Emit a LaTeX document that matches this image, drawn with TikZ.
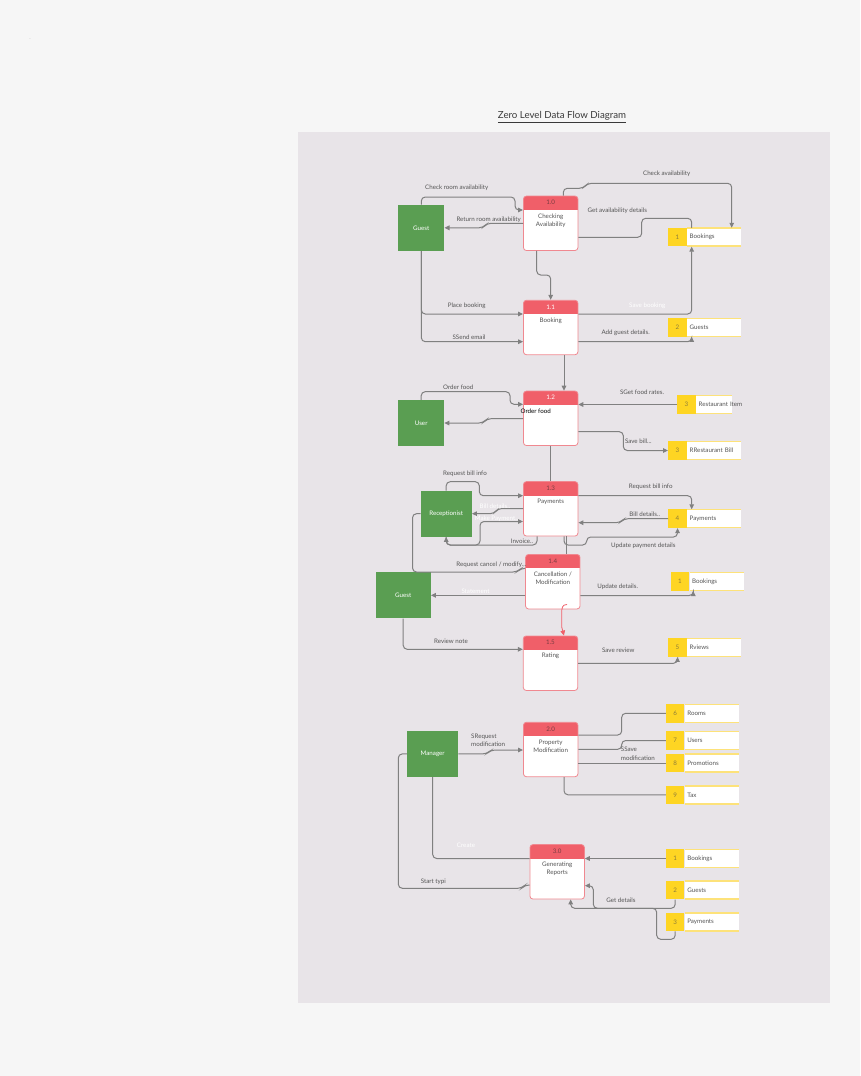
\documentclass[tikz,border=0pt]{standalone}
\usepackage{fontspec}
\setmainfont{Lato}
\usetikzlibrary{arrows.meta,positioning}
\definecolor{pagebg}{HTML}{F6F6F6}
\definecolor{panelbg}{HTML}{E8E4E8}
\definecolor{entgreen}{HTML}{5A9E52}
\definecolor{hdred}{HTML}{F05F69}
\definecolor{procline}{HTML}{F08890}
\definecolor{hdtxt}{HTML}{7A3C41}
\definecolor{stylw}{HTML}{FED523}
\definecolor{stlight}{HTML}{FDE27A}
\definecolor{snumtxt}{HTML}{8C7B3A}
\definecolor{flowgrey}{HTML}{808080}
\definecolor{txtgrey}{HTML}{555555}
\definecolor{ttlgrey}{HTML}{3A3A3A}
\newcommand{\dfdfont}{\fontsize{6.2}{8.4}\selectfont}
\tikzstyle{proc}=[draw=procline,line width=0.8pt,fill=white,rounded corners=3pt,minimum width=54.5pt,minimum height=54.5pt,inner sep=0pt,
  path picture={\fill[hdred,sharp corners] (path picture bounding box.north west) rectangle ([yshift=-14pt]path picture bounding box.north east);}]
\tikzstyle{hnum}=[anchor=center,yshift=-7pt,font=\dfdfont,text=hdtxt,inner sep=0pt]
\tikzstyle{ptxt}=[anchor=north,yshift=-17.6pt,align=center,font=\dfdfont,text=txtgrey,inner sep=0pt]
\tikzstyle{extent}=[fill=entgreen,text=white,minimum width=46pt,minimum height=46pt,inner sep=0pt,font=\dfdfont]
\tikzstyle{snum}=[fill=stylw,text=snumtxt,minimum width=18.5pt,minimum height=18.5pt,inner sep=0pt,font=\dfdfont]
\tikzstyle{slab}=[fill=white,minimum height=18.5pt,text width=49.3pt,inner xsep=2.5pt,inner ysep=0pt,align=left,font=\dfdfont,text=txtgrey,
  path picture={\draw[stlight,line width=2pt] (path picture bounding box.north west) -- (path picture bounding box.north east) (path picture bounding box.south west) -- (path picture bounding box.south east);}]
\tikzstyle{dflow}=[draw=flowgrey,line width=1pt,rounded corners=4pt]
\tikzstyle{rflow}=[draw=hdred,line width=0.8pt,->]
\tikzstyle{flab}=[font=\dfdfont,text=txtgrey,inner sep=0pt]
\tikzstyle{wlab}=[font=\dfdfont,text=white,inner sep=0pt]
\tikzstyle{ttl}=[font=\fontsize{9.7}{12}\selectfont,text=ttlgrey]

\begin{document}
\begin{tikzpicture}[x=1pt,y=-1pt,>={Triangle[length=5pt,width=4.6pt]}]
\useasboundingbox (0,0) rectangle (860,1076);
\fill[pagebg] (0,0) rectangle (860,1076);
\fill[panelbg] (298,132) rectangle (830,1003);
\node[font=\fontsize{4}{4}\selectfont,text=gray] (dot) at (30,39) {.};
\node[ttl] (title) at (562,117) {\underline{Zero Level Data Flow Diagram}};

\node[extent] (G1) at (421.3,227.8) {Guest};
\node[extent] (U) at (421.2,423) {User};
\node[extent,minimum width=51pt] (R) at (446.2,513.7) {Receptionist};
\node[extent,minimum width=55pt] (G2) at (403.2,595.3) {Guest};
\node[extent,minimum width=51pt] (M) at (432.7,753.9) {Manager};

\node[proc,label={[hnum]north:1.0},label={[ptxt]north:{Checking\\Availability}}] (P10) at (550.7,223.3) {};
\node[proc,label={[hnum,text=white]north:1.1},label={[ptxt]north:Booking}] (P11) at (550.7,327.5) {};
\node[proc,label={[hnum,text=white]north:1.2},label={[ptxt,text=black,xshift=-15pt]north:Order food}] (P12) at (550.7,418.3) {};
\node[proc,label={[hnum]north:1.3},label={[ptxt]north:Payments}] (P13) at (550.7,508.8) {};
\node[proc,label={[hnum]north:1.4},label={[ptxt]north:{Cancellation /\\Modification}}] (P14) at (552.8,581.7) {};
\node[proc,label={[hnum]north:1.5},label={[ptxt]north:Rating}] (P15) at (550.5,663.2) {};
\node[proc,label={[hnum]north:2.0},label={[ptxt]north:{Property\\Modification}}] (P20) at (550.7,749.5) {};
\node[proc,label={[hnum]north:3.0},label={[ptxt]north:{Generating\\Reports}}] (P30) at (557.2,871.8) {};

\node[snum] (S1n) at (677.5,237.2) {1};
\node[slab,right=0pt of S1n] (S1) {Bookings};
\node[snum] (S2n) at (677.5,327.5) {2};
\node[slab,right=0pt of S2n] (S2) {Guests};
\node[snum] (S3an) at (686.5,404.5) {3};
\node[slab,right=0pt of S3an,text width=31pt] (S3a) {\mbox{Restaurant Item}};
\node[snum] (S3bn) at (677.5,450.5) {3};
\node[slab,right=0pt of S3bn] (S3b) {RRestaurant Bill};
\node[snum] (S4n) at (677.5,518.7) {4};
\node[slab,right=0pt of S4n] (S4) {Payments};
\node[snum] (S1bn) at (680,581.7) {1};
\node[slab,right=0pt of S1bn] (S1b) {Bookings};
\node[snum] (S5n) at (677.5,647.5) {5};
\node[slab,right=0pt of S5n] (S5) {Rviews};
\node[snum] (S6n) at (675.2,713.3) {6};
\node[slab,right=0pt of S6n] (S6) {Rooms};
\node[snum] (S7n) at (675.2,740.5) {7};
\node[slab,right=0pt of S7n] (S7) {Users};
\node[snum] (S8n) at (675.2,763.2) {8};
\node[slab,right=0pt of S8n] (S8) {Promotions};
\node[snum] (S9n) at (675.2,794.8) {9};
\node[slab,right=0pt of S9n] (S9) {Tax};
\node[snum] (S1cn) at (675.2,858.5) {1};
\node[slab,right=0pt of S1cn] (S1c) {Bookings};
\node[snum] (S2cn) at (675.2,890.2) {2};
\node[slab,right=0pt of S2cn] (S2c) {Guests};
\node[snum] (S3cn) at (675.2,921.8) {3};
\node[slab,right=0pt of S3cn] (S3c) {Payments};

\draw[dflow,->] (G1.north) |- (515,197) |- (P10.west |- 0,210);
\draw[dflow,->] (P10.west |- 0,223.3) -- (487,223.3) -- (483,227.8) -- (G1.east);
\draw[dflow,->] (563.3,0 |- P10.north) -- (563.3,188.3) -- (583.3,188.3) -- (587.5,183.3) -| (731.7,0 |- S1.north);
\draw[dflow] (P10.east |- 0,237.3) -| (641.7,218.3) -| (691.7,0 |- S1.north);
\draw[dflow,->] (536.7,0 |- P10.south) |- (550.7,275) -- (P11.north);
\draw[dflow,->] (G1.south) |- (P11.west |- 0,314);
\draw[dflow,->] (G1.south) |- (P11.west |- 0,341.7);
\draw[dflow,->] (P11.east |- 0,314) -| (691.7,0 |- S1.south);
\draw[dflow,->] (P11.east |- 0,341.7) -| (691.7,0 |- S2.south);
\draw[dflow,->] (564,0 |- P11.south) -- (564,0 |- P12.north);
\draw[dflow,->] (U.north) |- (510,391.7) |- (P12.west |- 0,404.3);
\draw[dflow,->] (P12.west |- 0,418.7) -- (487,418.7) -- (483,423) -- (U.east);
\draw[dflow,->] (S3an.west) -- (P12.east |- S3an.west);
\draw[dflow,->] (P12.east |- 0,431.7) -| (623.3,450.5) -- (S3bn.west);
\draw[dflow] (P12.south) -- (P13.north);
\draw[dflow,->] (R.north) |- (479.3,481.7) |- (P13.west |- 0,495.7);
\draw[dflow,->] (P13.west |- 0,508.5) -- (498,508.5) -- (494,513.7) -- (R.east);
\draw[dflow,->] (R.south) |- (480,545) |- (P13.west |- 0,521.5);
\draw[dflow,->] (537,0 |- P13.south) |- (446.2,545) -- (R.south);
\draw[dflow,->] (P13.east |- 0,495.7) -| (691.7,0 |- S4.north);
\draw[dflow,->] (S4n.west) -- (624,518.7) -- (620,522.7) -- (P13.east |- 0,522.7);
\draw[dflow,->] (564,0 |- P13.south) |- (586.7,545) -- (586.7,537) -| (S4n.south);
\draw[dflow] (566,0 |- P13.south) -- (566,0 |- P14.north);
\draw[dflow] (R.west) -| (412.5,572) -- (517,572) -- (521,568.3) -- (P14.west |- 0,568.3);
\draw[dflow,->] (P14.west |- G2.east) -- (G2.east);
\draw[dflow,->] (P14.east |- 0,595.5) -| (693.3,0 |- S1b.south);
\draw[rflow] (567,604.5) .. controls (562,604.5) and (561.7,608) .. (561.7,614) -- (561.7,627) -- (564,0 |- P15.north);
\draw[dflow,->] (G2.south) |- (P15.west |- 0,649.3);
\draw[dflow,->] (P15.east |- 0,663.3) -| (S5n.south);
\draw[dflow,->] (M.east) -- (486.7,753.9) -- (491,750) -- (P20.west |- 0,750);
\draw[dflow] (P20.east |- 0,735) -| (621.7,713.3) -- (S6n.west);
\draw[dflow] (P20.east |- 0,749.3) -| (621.7,740.5) -- (S7n.west);
\draw[dflow] (P20.east |- S8n.west) -- (S8n.west);
\draw[dflow] (564,0 |- P20.south) |- (S9n.west);
\draw[dflow] (M.south) |- (P30.west |- S1cn.west);
\draw[dflow,->] (S1cn.west) -- (P30.east |- S1cn.west);
\draw[dflow] (M.west) -| (398.3,888.3) -- (521.7,888.3) -- (525,885) -- (P30.west |- 0,885);
\draw[dflow,->] (S2cn.south) |- (593.3,908.3) |- (P30.east |- 0,885.7);
\draw[dflow,->] (S3cn.south) |- (656.7,939.3) |- (570.7,908.3) -- (570.7,0 |- P30.south);

\node[flab] (lA) at (456.7,187.8) {Check room availability};
\node[flab] (lB) at (488.7,219.5) {Return room availability};
\node[flab] (lC) at (666.7,173.8) {Check availability};
\node[flab] (lD) at (617.3,210.5) {Get availability details};
\node[flab] (lE) at (466.7,305.8) {Place booking};
\node[flab] (lF) at (469,337.2) {SSend email};
\node[wlab] (lG) at (647.3,305.8) {Save booking};
\node[flab] (lH) at (625.7,333.2) {Add guest details.};
\node[flab] (lI) at (458.3,387.2) {Order food};
\node[flab] (lJ) at (642,392.2) {SGet food rates.};
\node[flab] (lK) at (638.3,441.5) {Save bill...};
\node[flab] (lL) at (465,473.5) {Request bill info};
\node[wlab] (lM) at (495,506) {Bill details..};
\node[wlab] (lN) at (496.5,518.8) {Make Payment..};
\node[flab] (lO) at (522,541.5) {Invoice..};
\node[flab] (lP) at (650.7,487.2) {Request bill info};
\node[flab] (lQ) at (644.7,514.5) {Bill details..};
\node[flab] (lR) at (643.3,546.2) {Update payment details};
\node[flab] (lS) at (491.3,564.5) {Request cancel / modify...};
\node[wlab] (lT) at (475.5,591.5) {Statement};
\node[flab] (lU) at (617.7,587.2) {Update details.};
\node[flab] (lV) at (451,641.2) {Review note};
\node[flab] (lW) at (618.3,649.8) {Save review};
\node[flab,align=left,anchor=west] (lX) at (471,740.5) {SRequest\\modification};
\node[flab,align=left,anchor=west] (lY) at (620.7,753.8) {SSave\\modification};
\node[wlab] (lZ) at (466,845.5) {Create};
\node[flab] (lAA) at (433.3,881.5) {Start typi};
\node[flab] (lAB) at (621,899.8) {Get details};
\end{tikzpicture}
\end{document}
